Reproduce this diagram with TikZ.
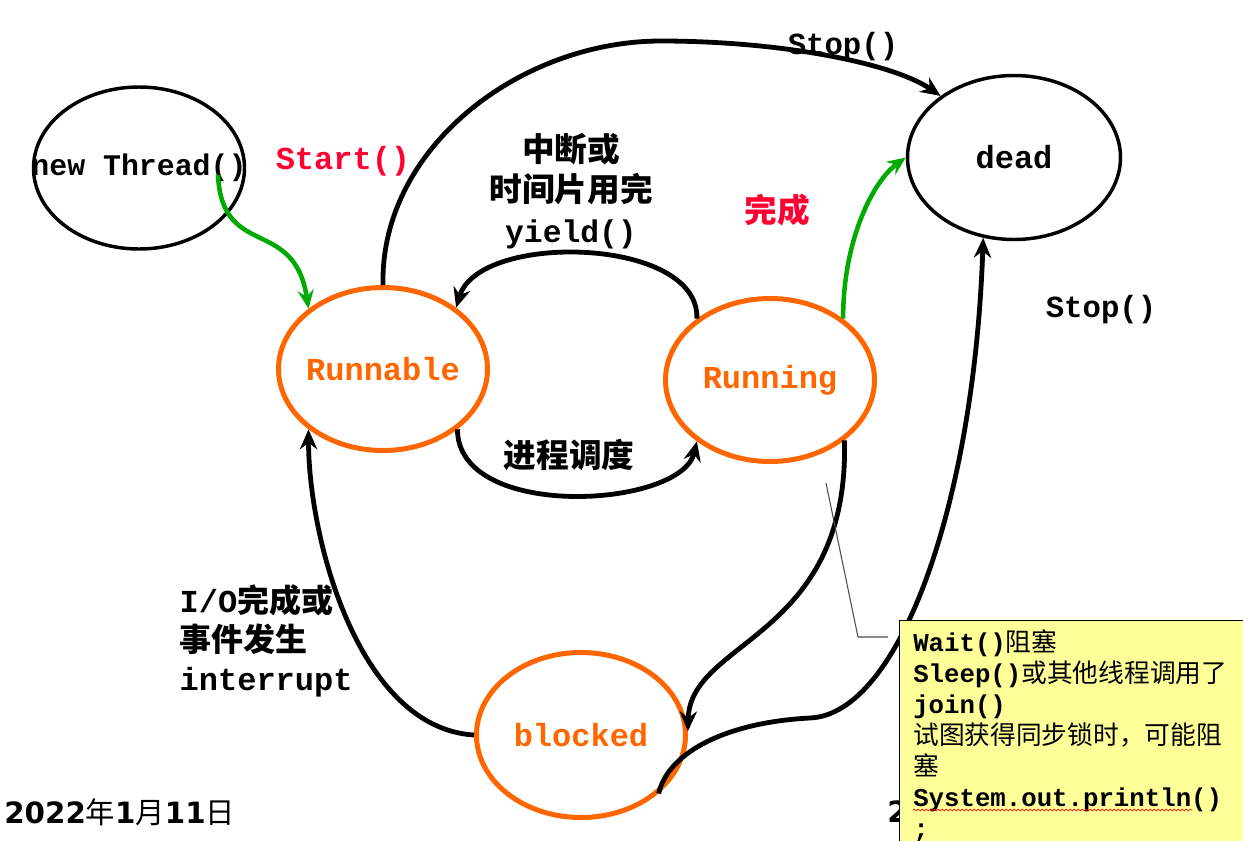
\documentclass[tikz,border=0pt]{standalone}
\usepackage{fontspec}
\setmainfont{Liberation Serif}
\setmonofont{Liberation Mono}
\newfontfamily\zhfont{Noto Sans CJK SC}
\newfontfamily\datefont{DejaVu Sans}
\usetikzlibrary{shapes.geometric,arrows.meta,calc,decorations.pathmorphing}
\definecolor{thorange}{HTML}{FF6600}
\definecolor{thred}{HTML}{FF0033}
\definecolor{thgreen}{HTML}{00AA00}
\definecolor{notefill}{HTML}{FFFF99}
\newcommand{\cd}[1]{{\ttfamily\bfseries #1}}
\newcommand{\zh}[1]{{\zhfont #1}}
\newcommand{\zhb}[1]{{\zhfont\bfseries #1}}
\begin{document}
\begin{tikzpicture}[x=0.75pt,y=-0.75pt,
  bstate/.style={ellipse, draw=black, line width=2.6pt, inner sep=0pt},
  ostate/.style={ellipse, draw=thorange, line width=3.75pt, inner sep=0pt,
    minimum width=156.75pt, minimum height=122.25pt},
  monolab/.style={font=\ttfamily\bfseries\fontsize{24}{28}\selectfont},
  zhlab/.style={font=\zhfont\bfseries\fontsize{24.5}{30}\selectfont},
  blk/.style={draw=black, line width=3.6pt, -{Stealth[length=15pt,width=13pt,inset=5pt]}},
  grn/.style={draw=thgreen, line width=3.4pt, -{Stealth[length=14pt,width=12pt,inset=5pt]}}
]
\useasboundingbox (0,0) rectangle (1243,840);
\fill[white] (0,0) rectangle (1243,840);

% states
\node[bstate, minimum width=158.25pt, minimum height=121.5pt,
  label={[monolab, font=\ttfamily\bfseries\fontsize{22.4}{26}\selectfont]center:new Thread()}]
  (newthread) at (139,168) {};
\node[bstate, minimum width=159.75pt, minimum height=123pt,
  label={[monolab]center:dead}] (dead) at (1014,157.5) {};
\node[ostate, label={[monolab, text=thorange]center:Runnable}] (runnable) at (383,369) {};
\node[ostate, label={[monolab, text=thorange]center:Running}] (running) at (770,380) {};
\node[ostate, minimum height=123.75pt, label={[monolab, text=thorange]center:blocked}] (blocked) at (581,735) {};

% connectors
\coordinate (ntstart) at ($(newthread.center)+(79,7)$);
\draw[grn] (ntstart) .. controls +(4,85) and +(-14,-93) .. (runnable.141);
\draw[grn] (running.40) .. controls +(0,-80) and +(-32,23) .. (dead.180);

\coordinate (stopmid) at (661,41);
\draw[blk] (runnable.north) .. controls +(-3,-137) and +(-141,0) .. (stopmid)
  .. controls +(119,0) and +(-48,-33) .. (dead.140);
\draw[blk] (running.140) .. controls +(3,-82) and +(23,-76) .. (runnable.40);
\draw[blk] (runnable.-39) .. controls +(0,92) and +(-16,67) .. (running.220);
\draw[blk] (blocked.west) .. controls +(-116,-7) and +(0,108) .. (runnable.219);
\draw[blk] (running.-39) .. controls +(5,199) and +(2,-92) .. (blocked.2);
\coordinate (bdmid) at (810,718);
\draw[blk] (blocked.-37) .. controls +(10,-43) and +(-80,4) .. (bdmid)
  .. controls +(90,-4) and +(-9,264) .. (dead.249);

% labels
\node[monolab, text=thred] (startlbl) at (343,161) {Start()};
\node[monolab, font=\ttfamily\bfseries\fontsize{23}{28}\selectfont] (stoptop) at (843,47) {Stop()};
\node[monolab, font=\ttfamily\bfseries\fontsize{23}{28}\selectfont] (stopright) at (1101,310) {Stop()};
\node[align=center, font=\fontsize{24.5}{30.5}\selectfont] (yieldlbl) at (571,191)
  {\zhb{中断或}\\\zhb{时间片用完}\\{\ttfamily\bfseries\fontsize{23.5}{30.5}\selectfont yield()}};
\node[zhlab, text=thred] (donelbl) at (777,210) {完成};
\node[zhlab] (schedlbl) at (569,455) {进程调度};
\node[align=left, anchor=west, font=\fontsize{24}{29}\selectfont] (iolbl) at (175,641)
  {{\ttfamily\bfseries I/O}\zhb{完成或}\\\zhb{事件发生}\\{\ttfamily\bfseries interrupt}};

% footer
\node[anchor=west, inner sep=0pt, font=\fontsize{22}{26}\selectfont] (datelbl) at (4,812)
  {{\datefont\bfseries 2022}\zh{年}{\datefont\bfseries 1}\zh{月}{\datefont\bfseries 11}\zh{日}};
\node[anchor=west, inner sep=0pt, font=\datefont\bfseries\fontsize{22}{26}\selectfont] (pagelbl) at (887,812) {2};

% callout
\node[draw=black, line width=1pt, fill=notefill, anchor=north west, inner sep=0pt,
  minimum width=263pt, minimum height=172pt] (note) at (899,620) {};
\coordinate (ptrA) at ($(note.north west)+(-73,-137)$);
\coordinate (ptrB) at ($(note.north west)+(-41,17)$);
\coordinate (ptrC) at ($(note.north west)+(-11,17)$);
\draw[black!70, line width=0.8pt] (ptrA) -- (ptrB) -- (ptrC);
\node[anchor=north west, align=left, inner sep=0pt, font=\fontsize{19.3}{23.25}\selectfont] (notetext) at (913,629)
  {\cd{Wait()}\zh{阻塞}\\
   \cd{Sleep()}\zh{或其他线程调用了}\\
   \cd{join()}\\
   \zh{试图获得同步锁时，可能阻}\\
   \zh{塞}\\
   \cd{System.out.println()}\\
   \cd{;}};
\coordinate (wavyA) at (913,810);
\coordinate (wavyB) at (1192,810);
\draw[red, line width=0.5pt, decorate, decoration={snake, amplitude=0.7pt, segment length=3pt}] (wavyA) -- (wavyB);
\end{tikzpicture}
\end{document}
